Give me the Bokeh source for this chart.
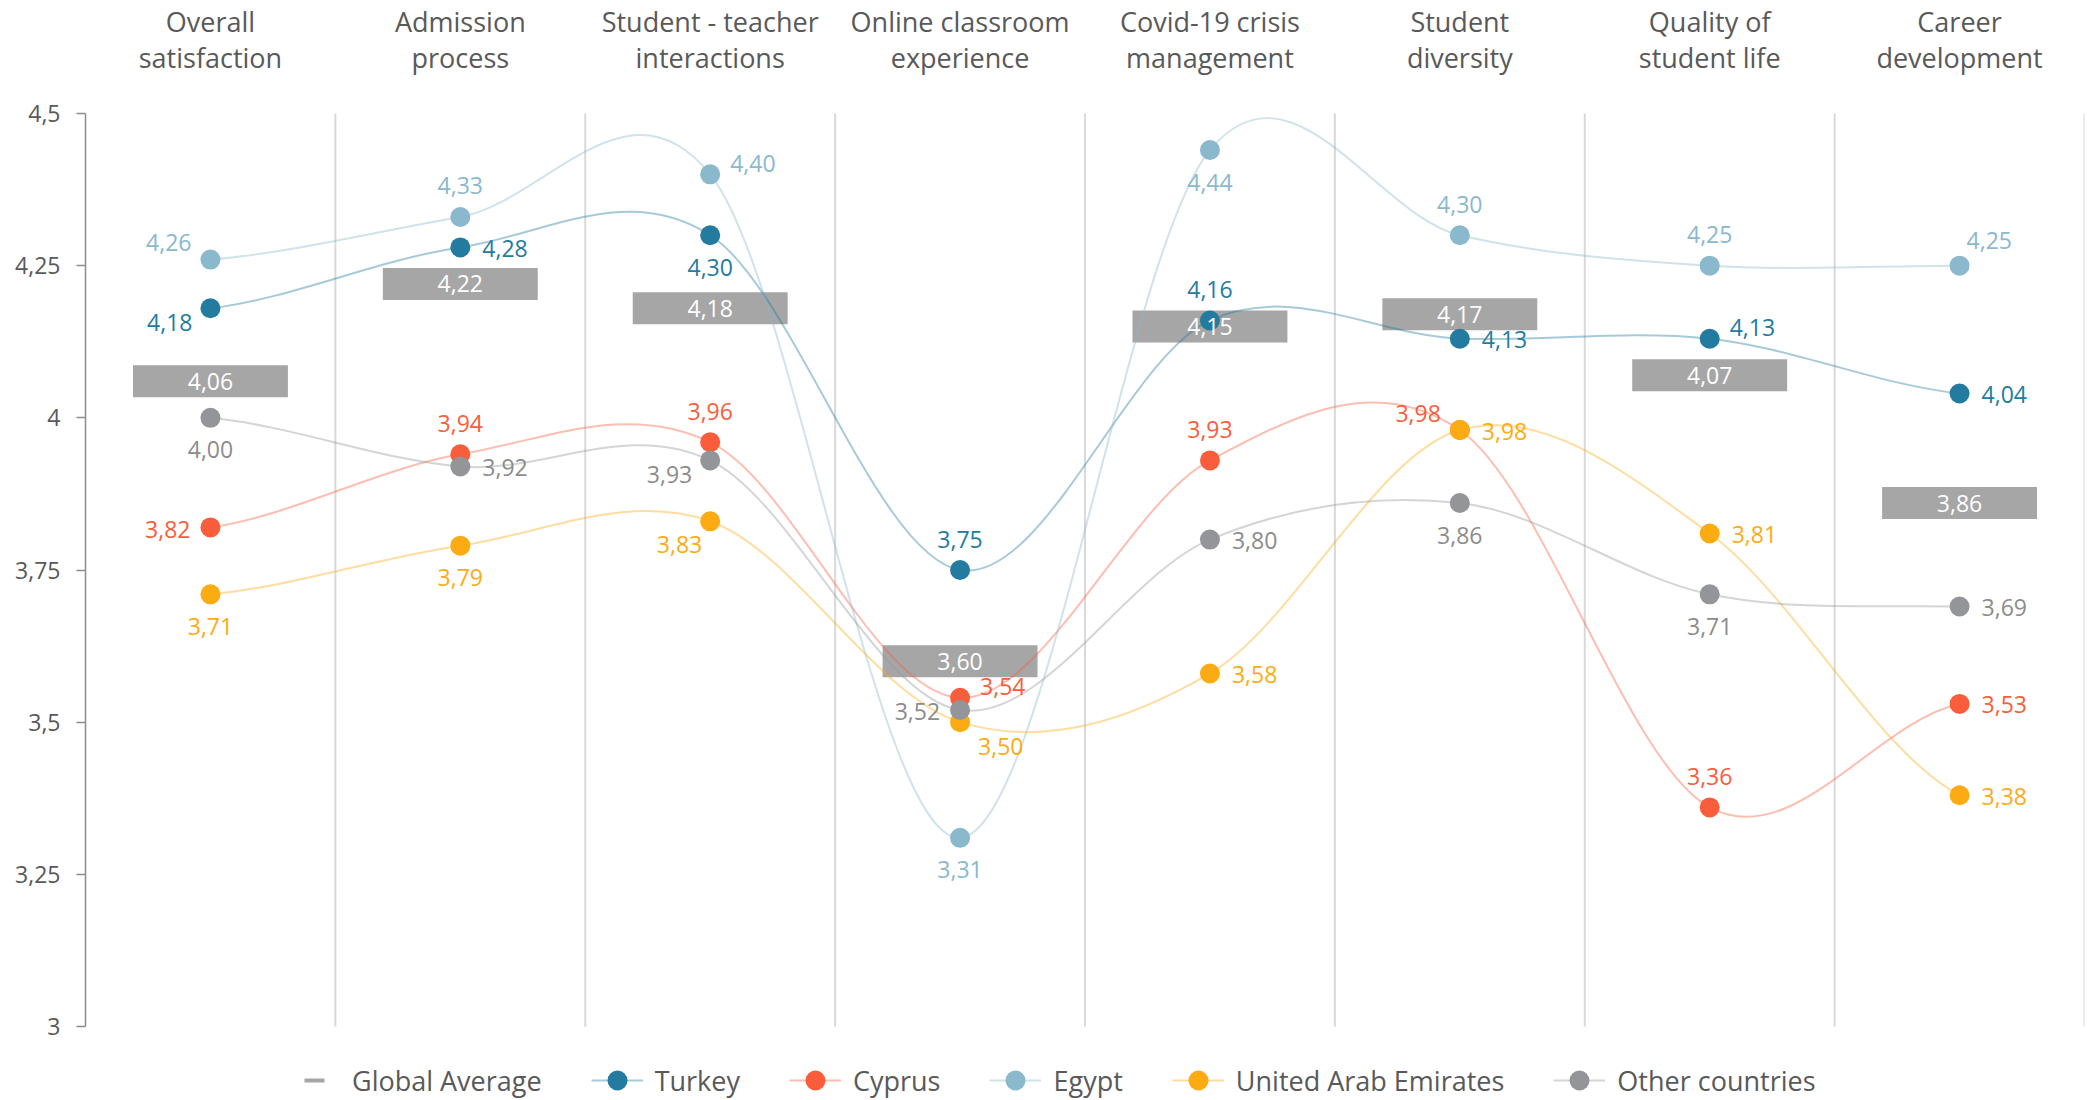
from bokeh.plotting import figure
from bokeh.models import (Range1d, FixedTicker, CustomJSTickFormatter, ColumnDataSource,
                          Legend, LegendItem)
from bokeh.core.properties import value
from bokeh.embed import file_html
from bokeh.resources import INLINE

# ---------------- data ----------------
categories = ["Overall\nsatisfaction", "Admission\nprocess", "Student - teacher\ninteractions",
              "Online classroom\nexperience", "Covid-19 crisis\nmanagement", "Student\ndiversity",
              "Quality of\nstudent life", "Career\ndevelopment"]
global_average = [4.06, 4.22, 4.18, 3.60, 4.15, 4.17, 4.07, 3.86]
turkey = [4.18, 4.28, 4.30, 3.75, 4.16, 4.13, 4.13, 4.04]
cyprus = [3.82, 3.94, 3.96, 3.54, 3.93, 3.98, 3.36, 3.53]
egypt = [4.26, 4.33, 4.40, 3.31, 4.44, 4.30, 4.25, 4.25]
uae = [3.71, 3.79, 3.83, 3.50, 3.58, 3.98, 3.81, 3.38]
other = [4.00, 3.92, 3.93, 3.52, 3.80, 3.86, 3.71, 3.69]
y_ticks = [3, 3.25, 3.5, 3.75, 4, 4.25, 4.5]

series_names = ["Turkey", "Cyprus", "Egypt", "United Arab Emirates", "Other countries"]
series_values = [turkey, cyprus, egypt, uae, other]

# ---------------- styles / layout ----------------
colors = ["#237BA0", "#F95D3B", "#8AB8CD", "#FDAB13", "#939598"]
label_colors = ["#237BA0", "#F95D3B", "#8AB8CD", "#FDAB13", "#8C8C8C"]
placements = [
    ["bl", "r", "b", "a", "a", "r", "ar", "r"],
    ["l", "a", "a", "ar", "a", "al", "a", "r"],
    ["al", "a", "ar", "b", "b", "a", "a", "au"],
    ["b", "b", "bl2", "br", "r", "r", "r", "r"],
    ["b", "r", "bl", "l", "r", "b", "b", "r"],
]
offsets = {  # dx, dy (screen px, dy down), align
    "a": (0, -31, "center"),
    "b": (0, 32, "center"),
    "r": (22, 1, "left"),
    "l": (-20, 2, "right"),
    "al": (-19, -17, "right"),
    "bl": (-18, 14, "right"),
    "bl2": (-8, 23, "right"),
    "ar": (20, -11, "left"),
    "au": (7, -25, "left"),
    "br": (18, 24, "left"),
}
FONT = "Open Sans"
AVG_COLOR = "#A6A6A6"
W, H = 2087, 1100
PAD_TOP, PAD_BOTTOM, PAD_LEFT, PAD_RIGHT = 113, 74, 85, 3

n = len(categories)
xs = [i + 0.5 for i in range(n)]
y_lo, y_hi = y_ticks[0], y_ticks[-1]
scale = (H - PAD_TOP - PAD_BOTTOM) / (y_hi - y_lo)
y_range = Range1d(y_lo - PAD_BOTTOM / scale, y_hi + PAD_TOP / scale)

p = figure(width=W, height=H, x_range=Range1d(0, n), y_range=y_range,
           x_axis_location=None, output_backend="svg", toolbar_location=None,
           min_border_left=PAD_LEFT, min_border_right=PAD_RIGHT,
           min_border_top=0, min_border_bottom=0)
p.outline_line_color = None
p.background_fill_color = "white"
p.border_fill_color = "white"
p.xgrid.visible = False
p.ygrid.visible = False

ya = p.yaxis[0]
ya.bounds = (y_lo, y_hi)
ya.ticker = FixedTicker(ticks=y_ticks)
ya.formatter = CustomJSTickFormatter(code="return tick.toString().replace('.', ',')")
ya.axis_line_color = "#8C8C8C"
ya.axis_line_width = 1.5
ya.major_tick_line_color = "#8C8C8C"
ya.major_tick_line_width = 1.5
ya.major_tick_out = 9
ya.major_tick_in = 0
ya.minor_tick_line_color = None
ya.major_label_text_font = FONT
ya.major_label_text_font_size = "23px"
ya.major_label_text_color = "#595959"
ya.major_label_standoff = 16

# category separators
seps = list(range(1, n + 1))
p.segment(x0=seps, y0=[y_lo] * n, x1=seps, y1=[y_hi] * n,
          line_color="#D9D9D9", line_width=2)

# category labels above the plot
p.text(x=xs, y=[y_hi] * n, text=categories, y_offset=-37, text_align="center",
       text_baseline="bottom", text_font=value(FONT), text_font_size="27px",
       text_color="#595959", text_line_height=0.98)

# global average
avg_src = ColumnDataSource(dict(x=xs, y=global_average,
                                t=[f"{v:.2f}".replace(".", ",") for v in global_average]))
dash_r = p.scatter("x", "y", source=avg_src, marker="dash", size=18,
                   line_color=AVG_COLOR, line_width=4)
p.rect("x", "y", width=0.62, height=32, height_units="screen", source=avg_src,
       fill_color=AVG_COLOR, line_color=None)

# lines as smooth Bezier segments (Catmull-Rom through the data points)
line_renderers = []
for vals, col in zip(series_values, colors):
    m = []
    for i in range(n):
        prev = vals[i - 1] if i > 0 else vals[i]
        nxt = vals[i + 1] if i < n - 1 else vals[i]
        m.append((nxt - prev) / 2.0)
    src = ColumnDataSource(dict(
        x0=xs[:-1], y0=vals[:-1], x1=xs[1:], y1=vals[1:],
        cx0=[x + 1 / 3 for x in xs[:-1]], cy0=[vals[i] + m[i] / 3 for i in range(n - 1)],
        cx1=[x - 1 / 3 for x in xs[1:]], cy1=[vals[i + 1] - m[i + 1] / 3 for i in range(n - 1)],
    ))
    r = p.bezier("x0", "y0", "x1", "y1", "cx0", "cy0", "cx1", "cy1", source=src,
                 line_color=col, line_alpha=0.4, line_width=2)
    line_renderers.append(r)

point_renderers = []
for vals, col in zip(series_values, colors):
    r = p.scatter(xs, vals, size=20, fill_color=col, line_color=None)
    point_renderers.append(r)

# average labels
p.text("x", "y", text="t", source=avg_src, text_font=value(FONT), text_font_size="23px",
       text_color="white", text_align="center", text_baseline="middle")

# data labels
lx, ly, lt, ldx, ldy, lal, lcol = [], [], [], [], [], [], []
for vals, codes, lc in zip(series_values, placements, label_colors):
    for i, v in enumerate(vals):
        dx, dy, al = offsets[codes[i]]
        lx.append(xs[i]); ly.append(v); lt.append(f"{v:.2f}".replace(".", ","))
        ldx.append(dx); ldy.append(dy); lal.append(al); lcol.append(lc)
lab_src = ColumnDataSource(dict(x=lx, y=ly, t=lt, dx=ldx, dy=ldy, al=lal, c=lcol))
p.text("x", "y", text="t", source=lab_src, x_offset="dx", y_offset="dy", text_align="al",
       text_color="c", text_font=value(FONT), text_font_size="23px", text_baseline="middle")

# legend
items = [LegendItem(label="Global Average", renderers=[dash_r])]
for name, lr, pr in zip(series_names, line_renderers, point_renderers):
    items.append(LegendItem(label=name, renderers=[lr, pr]))
legend = Legend(items=items, orientation="horizontal", location=(203, -5),
                glyph_width=52, glyph_height=50, label_height=50, label_standoff=12,
                spacing=49, padding=0, margin=0, border_line_color=None,
                background_fill_alpha=0, label_text_font=FONT, label_text_font_size="27px",
                label_text_color="#595959")
p.add_layout(legend)

open("out.html", "w").write(file_html(p, INLINE))
